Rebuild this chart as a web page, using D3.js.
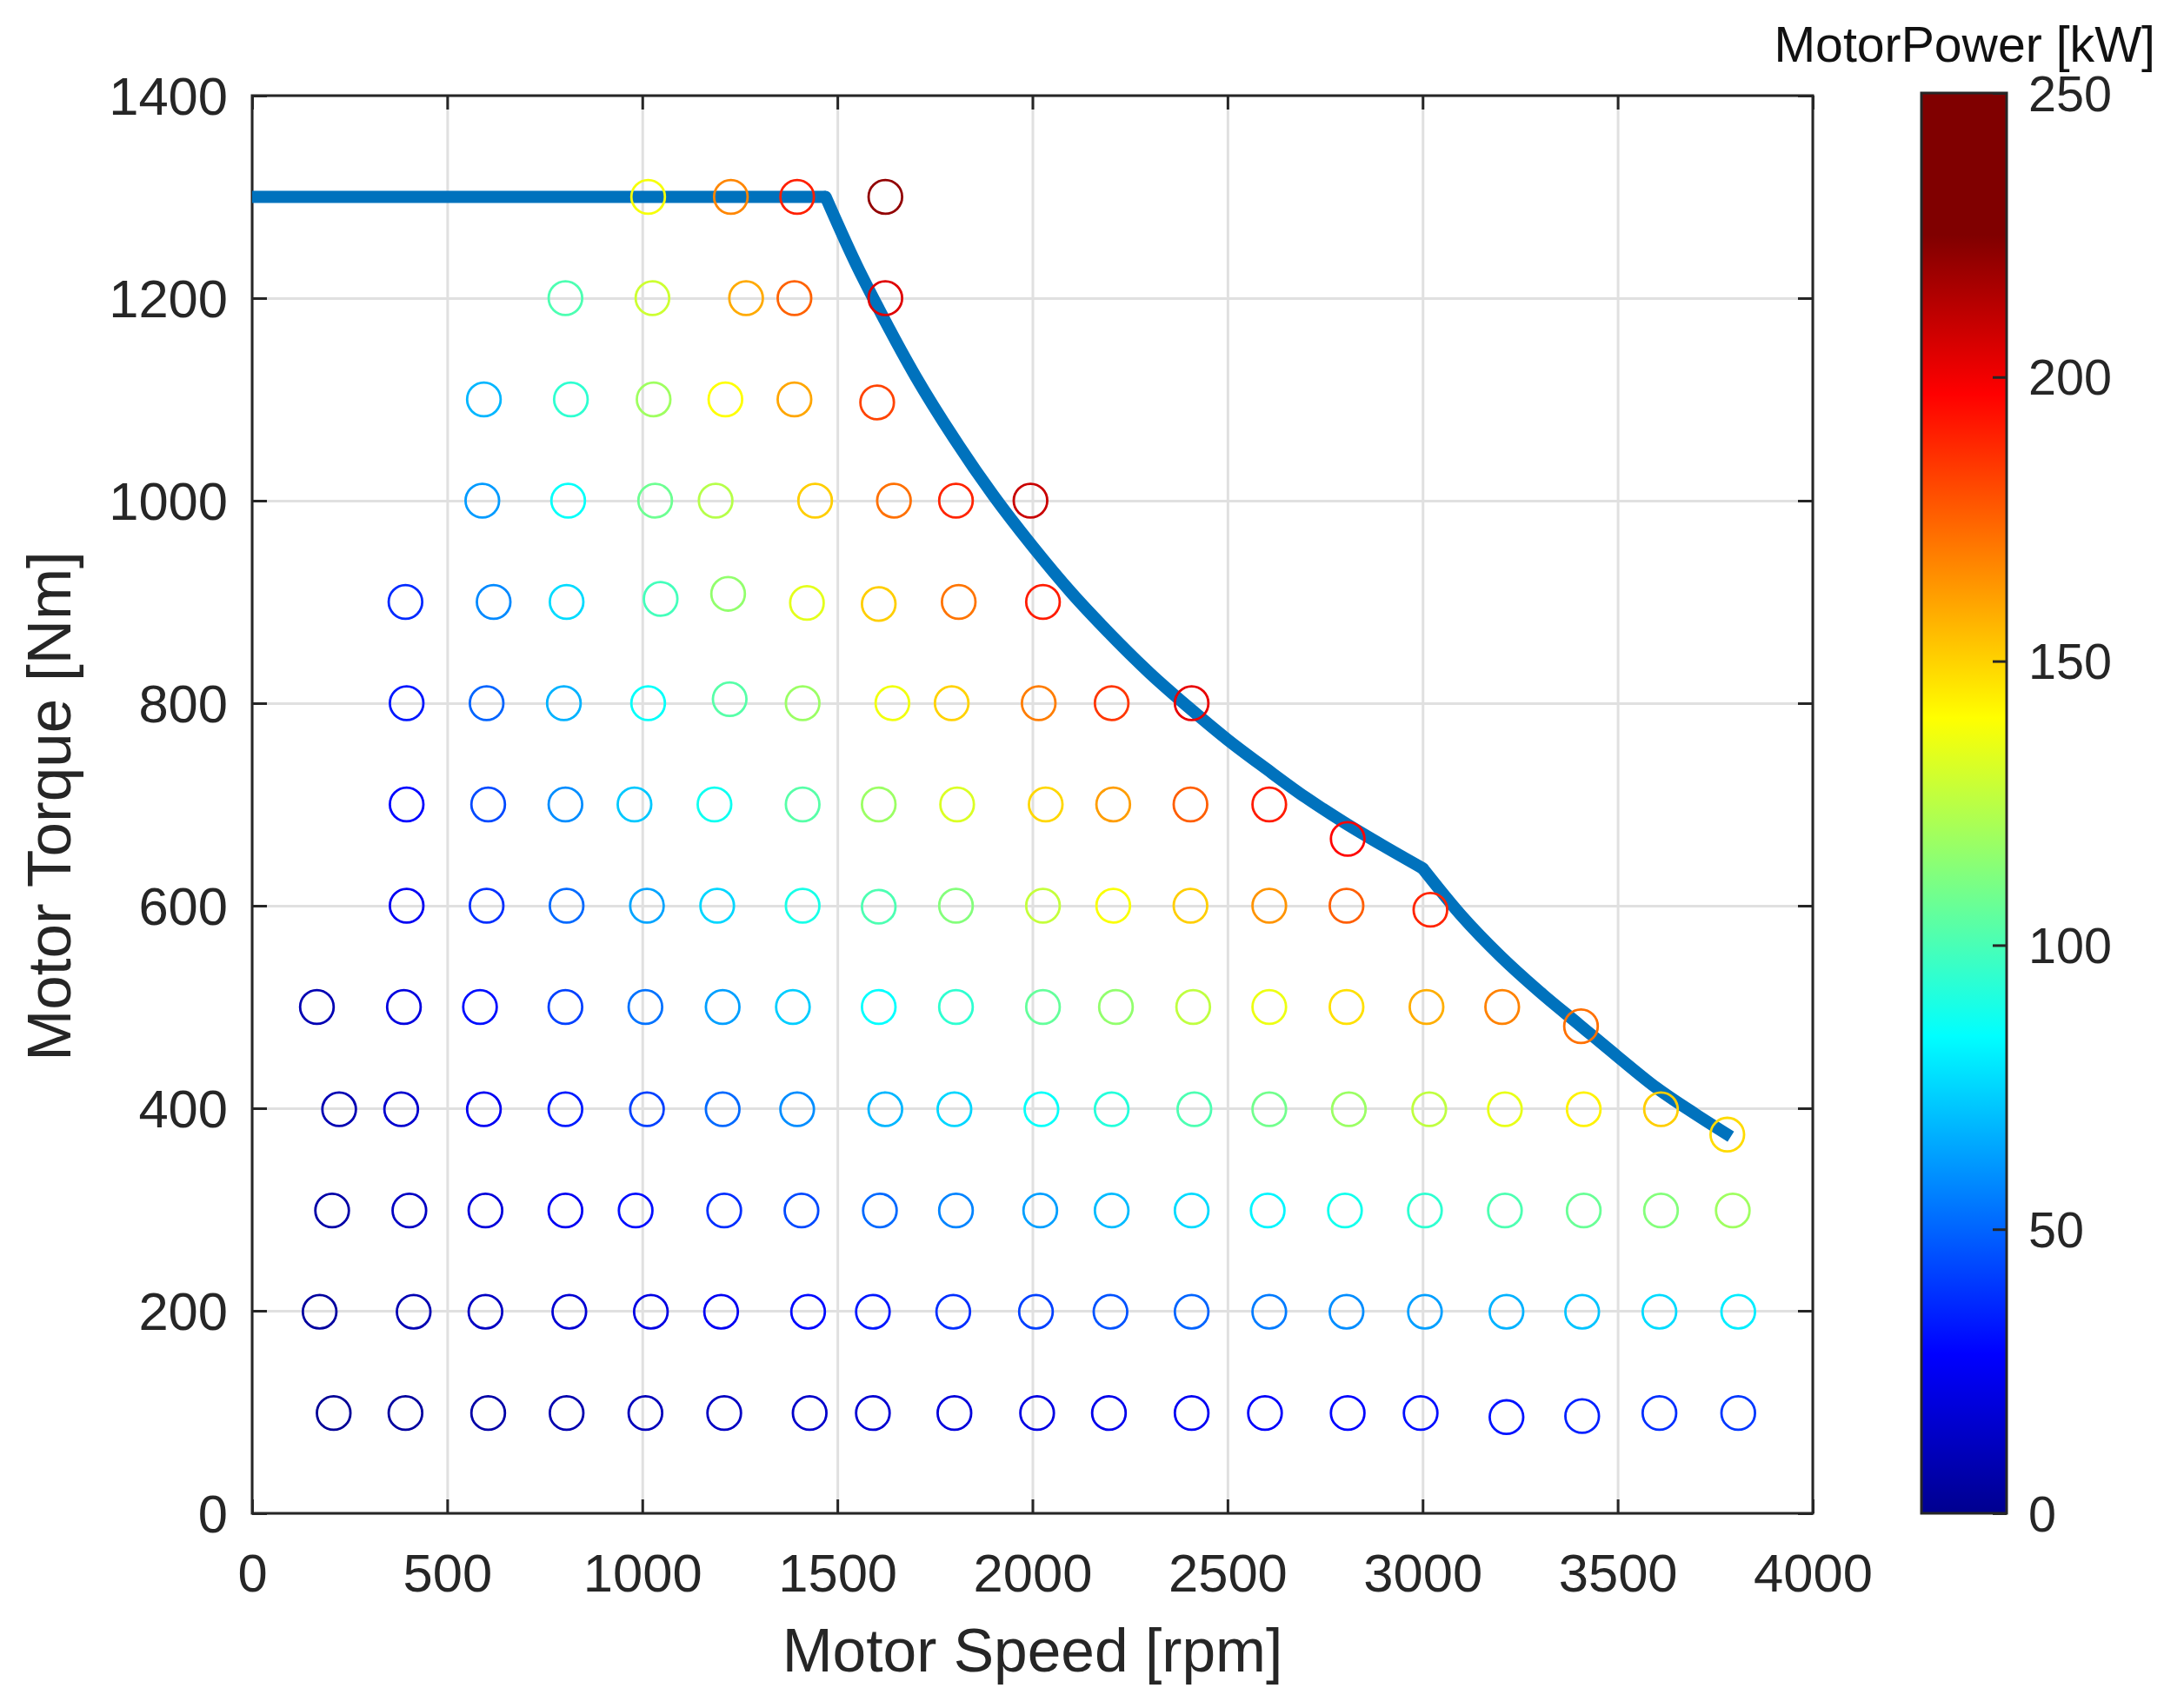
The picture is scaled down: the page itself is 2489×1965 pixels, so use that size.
<!DOCTYPE html>
<html>
<head>
<meta charset="utf-8">
<script src="https://cdn.jsdelivr.net/npm/d3@7"></script>
<style>
  html, body { margin: 0; padding: 0; background: #fff; }
  svg { display: block; font-family: "Liberation Sans", Arial, sans-serif; }
  .tick text { fill: #262626; }
  .domain { display: none; }
</style>
</head>
<body>
<div id="chart"></div>
<script>
// torque limit curve, split where the curve has a sharp knee
var limitSpeed = [
    [0, 1470],
    [3000, 3100, 3200, 3300, 3400, 3500, 3600, 3700, 3790],
    [1470, 1550, 1600, 1700, 1800, 1900, 2000, 2100, 2200, 2300, 2400, 2500, 2600, 2700, 2800, 2900, 3000]
];
var limitTorque = [
    [1300, 1300],
    [637, 590, 550, 515, 483, 451, 420, 394, 372],
    [1300, 1232, 1194, 1123, 1061, 1005, 955, 909, 868, 830, 796, 764, 735, 707, 682, 659, 637]
];

// measured points, one line per torque level
var pointSpeed = [
    1015, 1227, 1397, 1623,
    803, 1026, 1266, 1390, 1623,
    594, 817, 1029, 1213, 1390, 1602,
    590, 810, 1033, 1188, 1443, 1645, 1804, 1995,
    393, 619, 806, 1047, 1220, 1422, 1606, 1811, 2027,
    396, 601, 799, 1015, 1224, 1411, 1641, 1793, 2016, 2203, 2408,
    396, 605, 803, 980, 1185, 1411, 1606, 1807, 2034, 2207, 2405, 2607, 2808,
    396, 601, 806, 1012, 1192, 1411, 1606, 1804, 2027, 2207, 2405, 2607, 2805, 3020,
    166, 389, 584, 803, 1008, 1206, 1386, 1606, 1804, 2027, 2214, 2412, 2607, 2805, 3010, 3204, 3406,
    223, 382, 594, 803, 1012, 1206, 1397, 1623, 1800, 2023, 2203, 2415, 2607, 2811, 3017, 3211, 3413, 3611, 3781,
    205, 403, 598, 803, 983, 1210, 1408, 1609, 1804, 2020, 2203, 2408, 2603, 2801, 3006, 3211, 3413, 3611, 3795,
    173, 414, 598, 813, 1022, 1202, 1425, 1591, 1797, 2009, 2200, 2408, 2607, 2805, 3006, 3215, 3409, 3607, 3809,
    209, 393, 605, 806, 1008, 1210, 1429, 1591, 1800, 2012, 2196, 2408, 2596, 2808, 2995, 3215, 3409, 3607, 3809
];
var pointTorque = [
    1300, 1300, 1300, 1300,
    1200, 1200, 1200, 1200, 1200,
    1100, 1100, 1100, 1100, 1100, 1097,
    1000, 1000, 1000, 1000, 1000, 1000, 1000, 1000,
    900, 900, 900, 903, 908, 899, 898, 900, 900,
    800, 800, 800, 800, 804, 800, 800, 800, 800, 800, 800,
    700, 700, 700, 700, 700, 700, 700, 700, 700, 700, 700, 700, 666,
    600, 600, 600, 600, 600, 600, 599, 600, 600, 600, 600, 600, 600, 596,
    500, 500, 500, 500, 500, 500, 500, 500, 500, 500, 500, 500, 500, 500, 500, 500, 481,
    399, 399, 399, 399, 399, 399, 399, 399, 399, 399, 399, 399, 399, 399, 399, 399, 399, 399, 374,
    299, 299, 299, 299, 299, 299, 299, 299, 299, 299, 299, 299, 299, 299, 299, 299, 299, 299, 299,
    199, 199, 199, 199, 199, 199, 199, 199, 199, 199, 199, 199, 199, 199, 199, 199, 199, 199, 199,
    99, 99, 99, 99, 99, 99, 99, 99, 99, 99, 99, 99, 99, 99, 99, 95, 96, 99, 99
];
var pointPower = [
    138, 167, 190, 221,
    101, 129, 159, 175, 204,
    68, 94, 119, 140, 160, 182,
    62, 85, 108, 124, 151, 172, 189, 209,
    37, 58, 76, 99, 116, 134, 151, 171, 191,
    33, 50, 67, 85, 103, 118, 137, 150, 169, 185, 202,
    29, 44, 59, 72, 87, 103, 118, 132, 149, 162, 176, 191, 196,
    25, 38, 51, 64, 75, 89, 101, 113, 127, 139, 151, 164, 176, 189,
    9, 20, 31, 42, 53, 63, 73, 84, 94, 106, 116, 126, 136, 147, 158, 168, 172,
    9, 16, 25, 34, 42, 51, 59, 68, 75, 85, 92, 101, 109, 118, 126, 135, 143, 151, 148,
    6, 13, 19, 25, 31, 38, 44, 51, 57, 63, 69, 76, 82, 88, 94, 101, 107, 113, 119,
    4, 9, 13, 17, 21, 25, 30, 33, 38, 42, 46, 50, 55, 59, 63, 67, 71, 76, 80,
    2, 4, 6, 8, 11, 13, 15, 17, 19, 21, 23, 25, 27, 29, 31, 32, 35, 38, 40
];

var speedTicks = [0, 500, 1000, 1500, 2000, 2500, 3000, 3500, 4000];
var torqueTicks = [0, 200, 400, 600, 800, 1000, 1200, 1400];
var powerTicks = [0, 50, 100, 150, 200, 250];

// colormap stops
var colorStops = [0, 28, 84, 140, 197, 225, 250];
var colorValues = ["#00008f", "#0000ff", "#00ffff", "#ffff00", "#ff0000", "#800000", "#800000"];

var svgWidth = 2489;
var svgHeight = 1965;
var plot = { left: 290, top: 110, right: 2085, bottom: 1741 };
var bar = { left: 2210, top: 107, right: 2308, bottom: 1741 };
var width = plot.right - plot.left;
var height = plot.bottom - plot.top;
var axisColor = "#262626";

var svg = d3.select("#chart")
    .append("svg")
    .attr("width", svgWidth)
    .attr("height", svgHeight);

var chartGroup = svg.append("g")
    .attr("transform", `translate(${plot.left}, ${plot.top})`);

var xScale = d3.scaleLinear().domain([0, 4000]).range([0, width]);
var yScale = d3.scaleLinear().domain([0, 1400]).range([height, 0]);
var colorScale = d3.scaleLinear().domain(colorStops).range(colorValues);

// grid first so everything else sits on top
chartGroup.append("g")
    .attr("class", "grid")
    .attr("transform", `translate(0, ${height})`)
    .call(d3.axisBottom(xScale).tickValues(speedTicks).tickSize(-height).tickFormat(""));
chartGroup.append("g")
    .attr("class", "grid")
    .call(d3.axisLeft(yScale).tickValues(torqueTicks).tickSize(-width).tickFormat(""));
chartGroup.selectAll(".grid line")
    .attr("stroke", "#e0e0e0")
    .attr("stroke-width", 3);

// axes, ticks point inwards on all four sides
var bottomAxis = chartGroup.append("g")
    .attr("transform", `translate(0, ${height})`)
    .call(d3.axisBottom(xScale).tickValues(speedTicks).tickSizeInner(-16).tickSizeOuter(0).tickPadding(46).tickFormat(d3.format("d")));
var leftAxis = chartGroup.append("g")
    .call(d3.axisLeft(yScale).tickValues(torqueTicks).tickSizeInner(-17).tickSizeOuter(0).tickPadding(28).tickFormat(d3.format("d")));
var topAxis = chartGroup.append("g")
    .call(d3.axisTop(xScale).tickValues(speedTicks).tickSizeInner(-16).tickSizeOuter(0).tickFormat(""));
var rightAxis = chartGroup.append("g")
    .attr("transform", `translate(${width}, 0)`)
    .call(d3.axisRight(yScale).tickValues(torqueTicks).tickSizeInner(-17).tickSizeOuter(0).tickFormat(""));

[bottomAxis, leftAxis, topAxis, rightAxis].forEach(function(axis) {
    axis.selectAll("line").attr("stroke", axisColor).attr("stroke-width", 3);
    axis.selectAll("text").style("font-size", "61.5px");
});
leftAxis.selectAll("text").attr("dy", "0.35em");

chartGroup.append("rect")
    .attr("width", width)
    .attr("height", height)
    .attr("fill", "none")
    .attr("stroke", axisColor)
    .attr("stroke-width", 3);

// limit curve, it covers the left axis line
var limitLine = d3.line()
    .x(d => xScale(d[0]))
    .y(d => yScale(d[1]))
    .curve(d3.curveMonotoneX);

// the middle piece is last and gets round caps to close both knees
chartGroup.append("g").selectAll("path")
    .data(limitSpeed.map((speeds, i) => d3.zip(speeds, limitTorque[i])))
    .enter()
    .append("path")
    .attr("d", limitLine)
    .attr("fill", "none")
    .attr("stroke", "#0072bd")
    .attr("stroke-width", 14)
    .attr("stroke-linecap", (d, i) => i === 2 ? "round" : "butt");

// measured points
chartGroup.append("g").selectAll("circle")
    .data(d3.zip(pointSpeed, pointTorque, pointPower))
    .enter()
    .append("circle")
    .attr("cx", d => xScale(d[0]))
    .attr("cy", d => yScale(d[1]))
    .attr("r", 19.3)
    .attr("fill", "none")
    .attr("stroke", d => colorScale(d[2]))
    .attr("stroke-width", 2.8);

// axis labels
svg.append("text")
    .attr("x", (plot.left + plot.right) / 2)
    .attr("y", 1923)
    .attr("text-anchor", "middle")
    .attr("fill", axisColor)
    .style("font-size", "69.5px")
    .text("Motor Speed [rpm]");

svg.append("text")
    .attr("transform", `translate(81, ${(plot.top + plot.bottom) / 2 + 2}) rotate(-90)`)
    .attr("text-anchor", "middle")
    .attr("fill", axisColor)
    .style("font-size", "71px")
    .text("Motor Torque [Nm]");

// colorbar
var barScale = d3.scaleLinear().domain([0, 250]).range([bar.bottom - bar.top, 0]);
var barGroup = svg.append("g")
    .attr("transform", `translate(${bar.left}, ${bar.top})`);

var gradient = svg.append("defs").append("linearGradient")
    .attr("id", "powerGradient")
    .attr("x1", 0).attr("y1", 1)
    .attr("x2", 0).attr("y2", 0);
gradient.selectAll("stop")
    .data(colorStops)
    .enter()
    .append("stop")
    .attr("offset", d => d / 250)
    .attr("stop-color", d => colorScale(d));

barGroup.append("rect")
    .attr("width", bar.right - bar.left)
    .attr("height", bar.bottom - bar.top)
    .attr("fill", "url(#powerGradient)")
    .attr("stroke", axisColor)
    .attr("stroke-width", 3);

var barAxis = barGroup.append("g")
    .attr("transform", `translate(${bar.right - bar.left}, 0)`)
    .call(d3.axisRight(barScale).tickValues(powerTicks).tickSizeInner(-16).tickSizeOuter(0).tickPadding(25).tickFormat(d3.format("d")));
barAxis.selectAll("line").attr("stroke", axisColor).attr("stroke-width", 3);
barAxis.selectAll("text").style("font-size", "57.5px").attr("dy", "0.35em");

svg.append("text")
    .attr("x", 2479)
    .attr("y", 71)
    .attr("text-anchor", "end")
    .attr("fill", "#111")
    .style("font-size", "57.2px")
    .text("MotorPower [kW]");
</script>
</body>
</html>
